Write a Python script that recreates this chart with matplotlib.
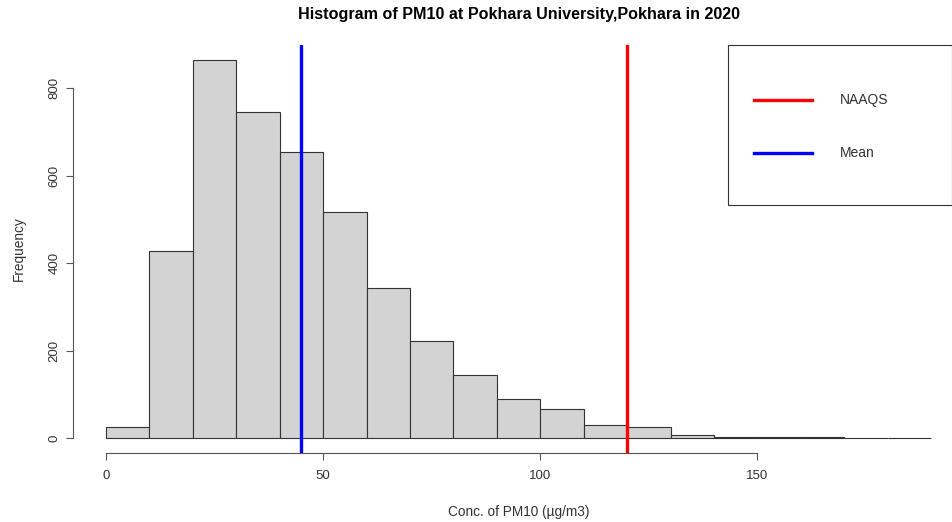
import numpy as np
import matplotlib.pyplot as plt

plt.rcParams['font.family'] = ['Liberation Sans', 'DejaVu Sans']

# histogram bins (ug/m3) and counts
bin_edges = list(range(0, 200, 10))
counts = [25, 427, 864, 745, 654, 517, 343, 222, 144, 89, 66, 30, 25, 7, 3, 3, 2, 1, 1]
mean_pm10 = 45
naaqs = 120
x_ticks = [0, 50, 100, 150]
y_ticks = [0, 200, 400, 600, 800]
legend_labels = ['NAAQS', 'Mean']
legend_colors = ['red', 'blue']

fig = plt.figure(figsize=(9.53, 5.22), dpi=100)
ax = fig.add_axes([0.0766, 0.132, 0.935, 0.7816])

ax.bar(bin_edges[:-1], counts, width=np.diff(bin_edges), align='edge',
       color='#d3d3d3', edgecolor='#333333', linewidth=0.8)

ax.axvline(naaqs, color='red', linewidth=2.4)
ax.axvline(mean_pm10, color='blue', linewidth=2.4)

ax.set_xlim(-7.6, 197.6)
ax.set_ylim(-34.6, 898.6)

for s in ['top', 'right']:
    ax.spines[s].set_visible(False)
ax.spines['left'].set_bounds(0, 800)
ax.spines['bottom'].set_bounds(0, 150)
ax.spines['left'].set_position(('data', -7.6))
ax.spines['bottom'].set_position(('data', -34.6))
for s in ['left', 'bottom']:
    ax.spines[s].set_color('#555555')
    ax.spines[s].set_linewidth(0.8)

ax.set_xticks(x_ticks)
ax.set_yticks(y_ticks)
ax.tick_params(axis='both', length=5, color='#555555', labelsize=9.5,
               labelcolor='#333333')
ax.tick_params(axis='x', pad=7)
ax.tick_params(axis='y', pad=4)
plt.setp(ax.get_yticklabels(), rotation=90, va='center')

ax.set_xlabel('Conc. of PM10 (µg/m3)', fontsize=9.8, color='#333333', labelpad=17)
ax.set_ylabel('Frequency', fontsize=9.8, color='#333333', labelpad=16)
ax.set_title('Histogram of PM10 at Pokhara University,Pokhara in 2020',
             fontsize=11.6, fontweight='bold', pad=19)

# legend box, drawn by hand in axes coordinates (R style)
ax.add_patch(plt.Rectangle((0.735, 0.608), 0.2515, 0.392, transform=ax.transAxes,
                           facecolor='white', edgecolor='#333333', linewidth=0.8,
                           clip_on=False, zorder=5))
for i, (lab, col) in enumerate(zip(legend_labels, legend_colors)):
    yy = 0.865 - i * 0.13
    ax.plot([0.764, 0.829], [yy, yy], transform=ax.transAxes, color=col,
            linewidth=2.4, clip_on=False, zorder=6)
    ax.text(0.861, yy, lab, transform=ax.transAxes, fontsize=10, color='#333333',
            va='center', ha='left', zorder=6)

fig.savefig('out.png', dpi=100)
